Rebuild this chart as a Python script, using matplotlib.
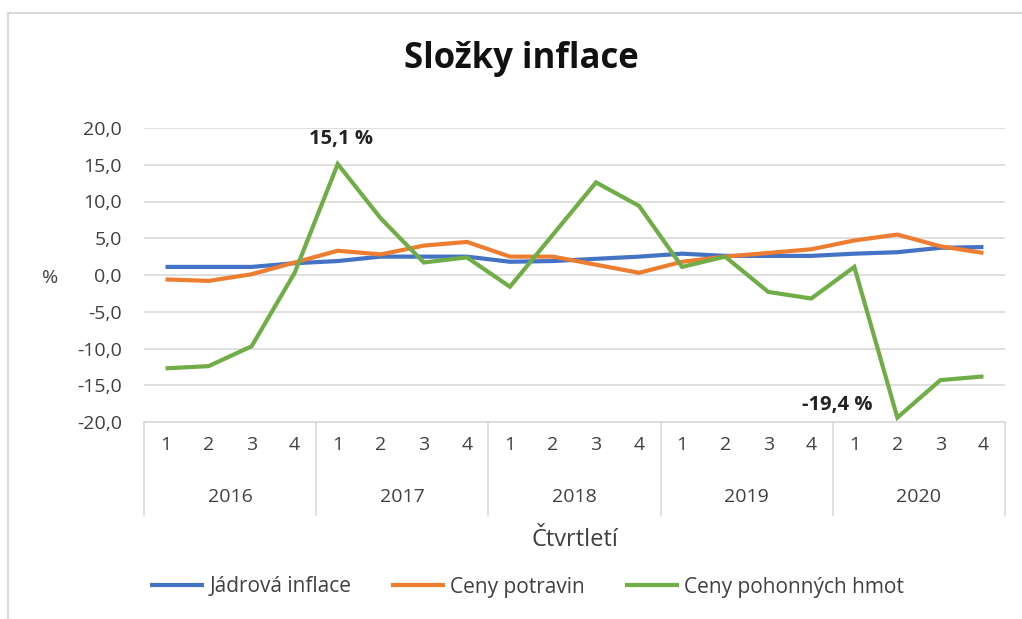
import matplotlib
matplotlib.use("Agg")
import matplotlib.pyplot as plt
from matplotlib.lines import Line2D
import matplotlib.transforms as mtransforms

plt.rcParams['font.family'] = ['Open Sans', 'DejaVu Sans']

years = ["2016", "2017", "2018", "2019", "2020"]
quarters = ["1", "2", "3", "4"]
jadrova = [1.1, 1.1, 1.1, 1.6, 1.9, 2.5, 2.5, 2.5, 1.8, 1.9, 2.2, 2.5,
           2.9, 2.6, 2.6, 2.6, 2.9, 3.1, 3.7, 3.8]
potraviny = [-0.6, -0.8, 0.1, 1.7, 3.3, 2.8, 4.0, 4.5, 2.5, 2.5, 1.4, 0.3,
             1.8, 2.5, 3.0, 3.5, 4.7, 5.5, 3.9, 3.0]
pohonne = [-12.7, -12.4, -9.7, 0.3, 15.1, 7.7, 1.7, 2.4, -1.6, 5.5, 12.6, 9.4,
           1.1, 2.5, -2.3, -3.2, 1.1, -19.4, -14.3, -13.8]
series_names = ["Jádrová inflace", "Ceny potravin", "Ceny pohonných hmot"]
colors = ["#4472C4", "#ED7D31", "#70AD47"]
yticks = [20, 15, 10, 5, 0, -5, -10, -15, -20]

W, H = 1022, 619
fig = plt.figure(figsize=(W / 100, H / 100), dpi=100)

# chart border (top and left)
fig.add_artist(Line2D([8 / W, 8 / W], [0, 1 - 13 / H], color="#d9d9d9", lw=1.5))
fig.add_artist(Line2D([8 / W, 1], [1 - 13 / H, 1 - 13 / H], color="#d9d9d9", lw=1.5))

left, right, top, bottom = 144, 1005, 128, 422
ax = fig.add_axes([left / W, 1 - bottom / H, (right - left) / W, (bottom - top) / H])

n = len(years) * len(quarters)
x = list(range(n))
for data, name, c in zip([jadrova, potraviny, pohonne], series_names, colors):
    ax.plot(x, data, color=c, lw=3.0, label=name, solid_capstyle="butt",
            solid_joinstyle="miter", zorder=3)

tick_fs = 14
ax.set_xlim(-0.5, n - 0.5)
ax.set_ylim(-20, 20)
ax.set_yticks(yticks)
ax.set_yticklabels([f"{v:.1f}".replace(".", ",") for v in yticks])
ax.grid(axis="y", color="#d9d9d9", lw=1.2)
ax.set_axisbelow(True)
for s in ["top", "right", "left"]:
    ax.spines[s].set_visible(False)
ax.spines["bottom"].set_color("#d9d9d9")
ax.spines["bottom"].set_linewidth(1.2)
ax.tick_params(axis="y", length=0, pad=16, labelsize=tick_fs, labelcolor="#404040")

ax.set_xticks(x)
ax.set_xticklabels(quarters * len(years))
ax.tick_params(axis="x", length=0, pad=10, labelsize=tick_fs, labelcolor="#404040")

trans = mtransforms.blended_transform_factory(ax.transData, ax.transAxes)
axh = bottom - top
sep_bottom = -(515 - bottom) / axh
for b in range(len(years) + 1):
    xb = b * 4 - 0.5
    ax.plot([xb, xb], [0, sep_bottom], transform=trans, color="#d9d9d9",
            lw=1.2, clip_on=False)
for i, yr in enumerate(years):
    ax.text(i * 4 + 1.5, -(497 - bottom) / axh, yr, transform=trans,
            ha="center", va="center", fontsize=tick_fs, color="#404040")

ax.text(0.5, -(540 - bottom) / axh, "Čtvrtletí", transform=ax.transAxes,
        ha="center", va="center", fontsize=17, color="#404040")

fig.text(50 / W, 1 - 278 / H, "%", ha="center", va="center", fontsize=tick_fs,
         color="#404040")

fig.text(521 / W, 1 - 59 / H, "Složky inflace", ha="center", va="center",
         fontsize=25, fontweight="bold", color="#111111")

# annotations
imax = pohonne.index(max(pohonne))
imin = pohonne.index(min(pohonne))
ax.annotate(f"{pohonne[imax]:.1f} %".replace(".", ","), (x[imax], pohonne[imax]),
            xytext=(2, 18), textcoords="offset points", ha="center", va="center",
            fontsize=14.5, fontweight="bold", color="#222222")
ax.annotate(f"{pohonne[imin]:.1f} %".replace(".", ","), (x[imin], pohonne[imin]),
            xytext=(-43, 9), textcoords="offset points", ha="center", va="center",
            fontsize=14.5, fontweight="bold", color="#222222")

leg = fig.legend(loc="center", bbox_to_anchor=(527 / W, 1 - 587 / H), ncol=3,
                 frameon=False, fontsize=15, handlelength=2.6,
                 handletextpad=0.25, columnspacing=1.9)
for t in leg.get_texts():
    t.set_color("#404040")

fig.savefig("out.png", dpi=100, facecolor="white")
